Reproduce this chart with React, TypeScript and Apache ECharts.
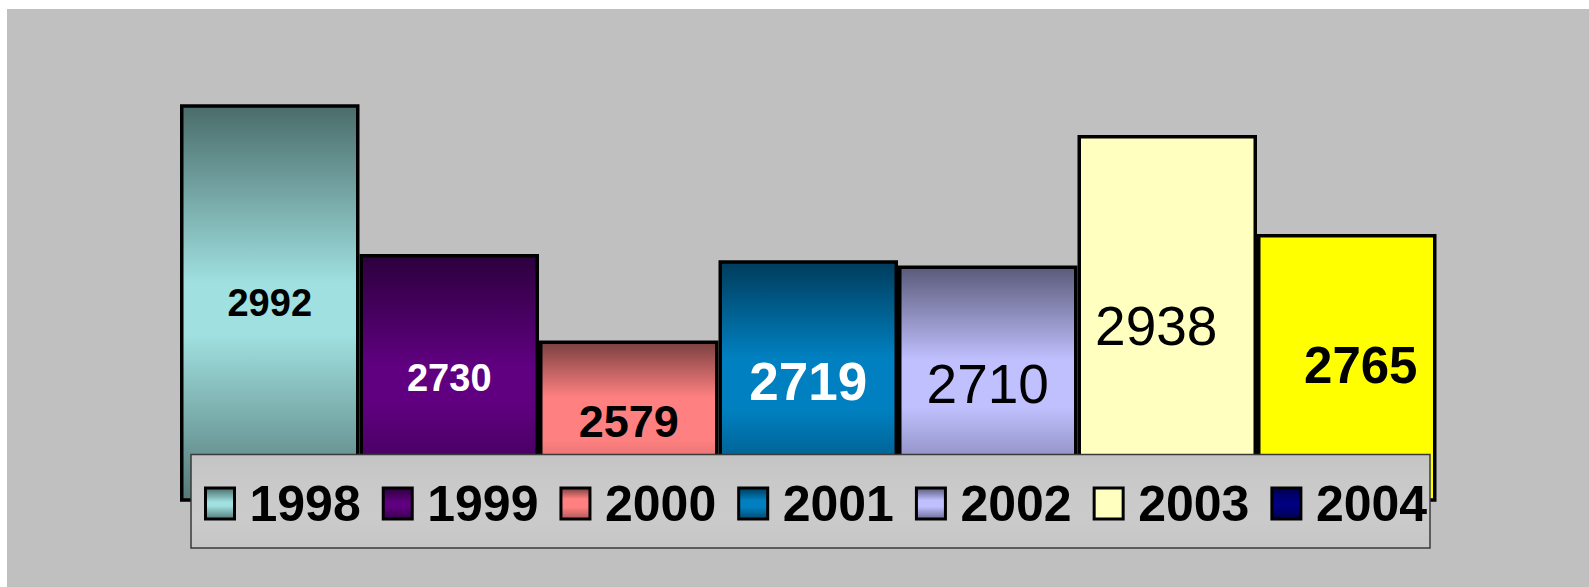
import React, { useEffect, useRef } from "react";
import * as echarts from "echarts";

const years = ["1998", "1999", "2000", "2001", "2002", "2003", "2004"];
const values = [2992, 2730, 2579, 2719, 2710, 2938, 2765];

// gradient stops for each year's fill (top -> bottom)
const fillStops: [number, string][][] = [
  [[0, "#4a6c6a"], [0.45, "#a0e0e0"], [0.58, "#a0e0e0"], [1, "#557a78"]],
  [[0, "#2c003d"], [0.45, "#600080"], [0.6, "#600080"], [1, "#3a0050"]],
  [[0, "#7a4040"], [0.35, "#ff8080"], [0.62, "#ff8080"], [1, "#b05858"]],
  [[0, "#003c5c"], [0.4, "#0080c0"], [0.62, "#0080c0"], [1, "#004a70"]],
  [[0, "#5a5a7a"], [0.4, "#c0c0ff"], [0.6, "#c0c0ff"], [1, "#6e6e98"]],
  [[0, "#ffffc0"], [1, "#ffffc0"]],
  [[0, "#000050"], [0.45, "#000080"], [0.6, "#000080"], [1, "#000050"]],
];
const barOverride: (string | null)[] = [null, null, null, null, null, null, "#ffff00"];

const FONT = "'Liberation Sans', Arial, sans-serif";

const labelStyles = [
  { color: "#000", fontWeight: "bold", fontSize: 38, offset: [0, 0] },
  { color: "#fff", fontWeight: "bold", fontSize: 38, offset: [0, 0] },
  { color: "#000", fontWeight: "bold", fontSize: 45, offset: [0, 0] },
  { color: "#fff", fontWeight: "bold", fontSize: 53, offset: [0, 0] },
  { color: "#000", fontWeight: "normal", fontSize: 55, offset: [0, 0] },
  { color: "#000", fontWeight: "normal", fontSize: 55, offset: [-11, 8] },
  { color: "#000", fontWeight: "bold", fontSize: 51, offset: [14, -2] },
];

function grad(stops: [number, string][]) {
  return new echarts.graphic.LinearGradient(
    0, 0, 0, 1,
    stops.map(([offset, color]) => ({ offset, color }))
  );
}

export default function App() {
  const ref = useRef<HTMLDivElement>(null);
  useEffect(() => {
    if (!ref.current) return;
    const chart = echarts.init(ref.current, null, { renderer: "svg" });
    const series = years.map((y, i) => ({
      type: "bar",
      name: y,
      barGap: "0%",
      barCategoryGap: "0%",
      itemStyle: { color: grad(fillStops[i]), borderColor: "#000", borderWidth: 3.5 },
      data: [
        barOverride[i]
          ? { value: values[i], itemStyle: { color: barOverride[i] } }
          : { value: values[i] },
      ],
      label: {
        show: true,
        position: "inside",
        color: labelStyles[i].color,
        fontWeight: labelStyles[i].fontWeight,
        fontSize: labelStyles[i].fontSize,
        fontFamily: FONT,
        offset: labelStyles[i].offset,
      },
    }));
    chart.setOption({
      animation: false,
      backgroundColor: "#ffffff",
      grid: { left: 180, right: 152.5, top: 99.6, bottom: 87 },
      xAxis: { type: "category", data: [""], show: false },
      yAxis: { type: "value", min: 2300, max: 3000, show: false },
      graphic: [
        {
          type: "rect",
          z: -10,
          shape: { x: 7, y: 9, width: 1589 - 7, height: 587 - 9 },
          style: { fill: "#c0c0c0" },
        },
        {
          type: "rect",
          z: 3,
          shape: { x: 191, y: 454.5, width: 1239, height: 93.5 },
          style: {
            fill: new echarts.graphic.LinearGradient(0, 0, 0, 1, [
              { offset: 0, color: "#c4c4c4" },
              { offset: 0.3, color: "#c9c9c9" },
              { offset: 0.65, color: "#cbcbcb" },
              { offset: 1, color: "#c6c6c6" },
            ]),
            stroke: "#3a3a3a",
            lineWidth: 1.5,
          },
        },
      ],
      legend: {
        z: 4,
        left: 204,
        top: 473.5,
        padding: 0,
        itemWidth: 29,
        itemHeight: 31,
        itemGap: 21,
        icon: "rect",
        data: years,
        itemStyle: { borderColor: "#000", borderWidth: 3 },
        textStyle: {
          fontFamily: FONT,
          fontWeight: "bold",
          fontSize: 50,
          color: "#000",
          lineHeight: 60,
          padding: [0, 0, 0, 10],
        },
      },
      series,
    });
    return () => chart.dispose();
  }, []);
  return (
    <div
      ref={ref}
      style={{ position: "fixed", left: 0, top: 0, width: 1589, height: 587, background: "#fff" }}
    />
  );
}
